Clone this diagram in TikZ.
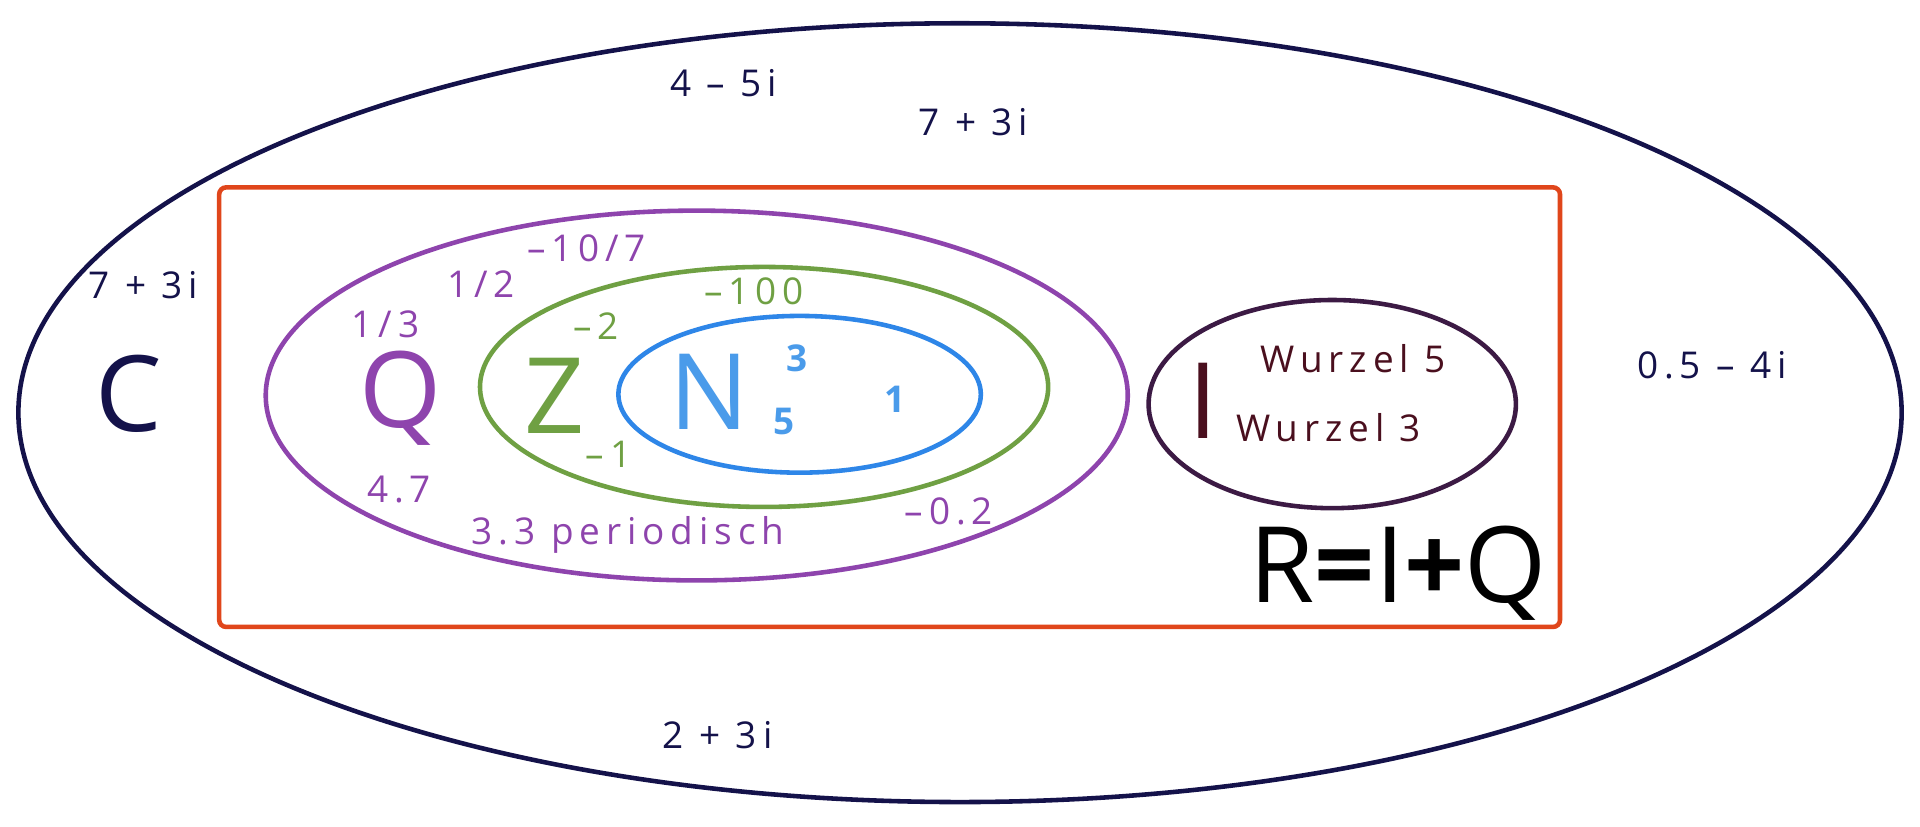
\documentclass[tikz,border=0pt]{standalone}
\usepackage{fontspec}
\setmainfont{Open Sans}
\newfontfamily\spaced{Open Sans}[LetterSpace=16]
\begin{document}
\begin{tikzpicture}[x=0.012245cm,y=-0.012245cm,
  sm/.style={font=\spaced\fontsize{10.5}{12}\selectfont},
  big/.style={font=\fontsize{30}{34}\selectfont},
  ell/.style={line width=1.3pt}]
\definecolor{navy}{HTML}{14124A}
\definecolor{purp}{HTML}{8E44AD}
\definecolor{grn}{HTML}{6FA043}
\definecolor{blu}{HTML}{2E86E8}
\definecolor{lblu}{HTML}{4A9BEA}
\definecolor{dred}{HTML}{4A0F1E}
\definecolor{ired}{HTML}{3C1A44}
\definecolor{org}{HTML}{E0461B}
\useasboundingbox (0,0) rectangle (1568,675);
\fill[white] (0,0) rectangle (1568,675);
\draw[ell,navy] (784,337) ellipse [x radius=769,y radius=318];
\draw[ell,org,rounded corners=2pt] (179,153) rectangle (1274,512);
\draw[ell,purp] (569,323) ellipse [x radius=352,y radius=151];
\draw[ell,grn] (624,316) ellipse [x radius=232,y radius=98];
\draw[ell,blu] (653,322) ellipse [x radius=148,y radius=64];
\draw[ell,ired] (1088,330) ellipse [x radius=150,y radius=85];
\node[big,navy] (c) at (105,322) {C};
\node[big,purp] (q) at (327,325) {Q};
\node[big,grn] (z) at (453,323) {Z};
\node[big,lblu] (n) at (579,320) {N};
\node[big,dred] (i) at (983,327) {I};
\node[big,black] (r) at (1142,468) {R\textbf{=}I\textbf{+}Q};
\node[sm,navy] (a1) at (591,68) {4 – 5i};
\node[sm,navy] (a2) at (795,100) {7 + 3i};
\node[sm,navy] (a3) at (117,233) {7 + 3i};
\node[sm,navy] (a4) at (1398,298) {0.5 – 4i};
\node[sm,navy] (a5) at (586,600) {2 + 3i};
\node[sm,purp] (p1) at (315,265) {1/3};
\node[sm,purp] (p2) at (393,232) {1/2};
\node[sm,purp] (p3) at (479,203) {–10/7};
\node[sm,purp] (p4) at (326,400) {4.7};
\node[sm,purp] (p5) at (513,437) {3.3 periodisch};
\node[sm,purp] (p6) at (775,418) {–0.2};
\node[sm,grn] (g1) at (616,238) {–100};
\node[sm,grn] (g2) at (487,266) {–2};
\node[sm,grn] (g3) at (497,371) {–1};
\node[lblu,font=\spaced\fontsize{10.5}{12}\selectfont\bfseries] (b1) at (651,293) {3};
\node[lblu,font=\spaced\fontsize{10.5}{12}\selectfont\bfseries] (b2) at (640,344) {5};
\node[lblu,font=\spaced\fontsize{10.5}{12}\selectfont\bfseries] (b3) at (731,326) {1};
\node[sm,dred] (w1) at (1105,293) {Wurzel 5};
\node[sm,dred] (w2) at (1085,349) {Wurzel 3};
\end{tikzpicture}
\end{document}
